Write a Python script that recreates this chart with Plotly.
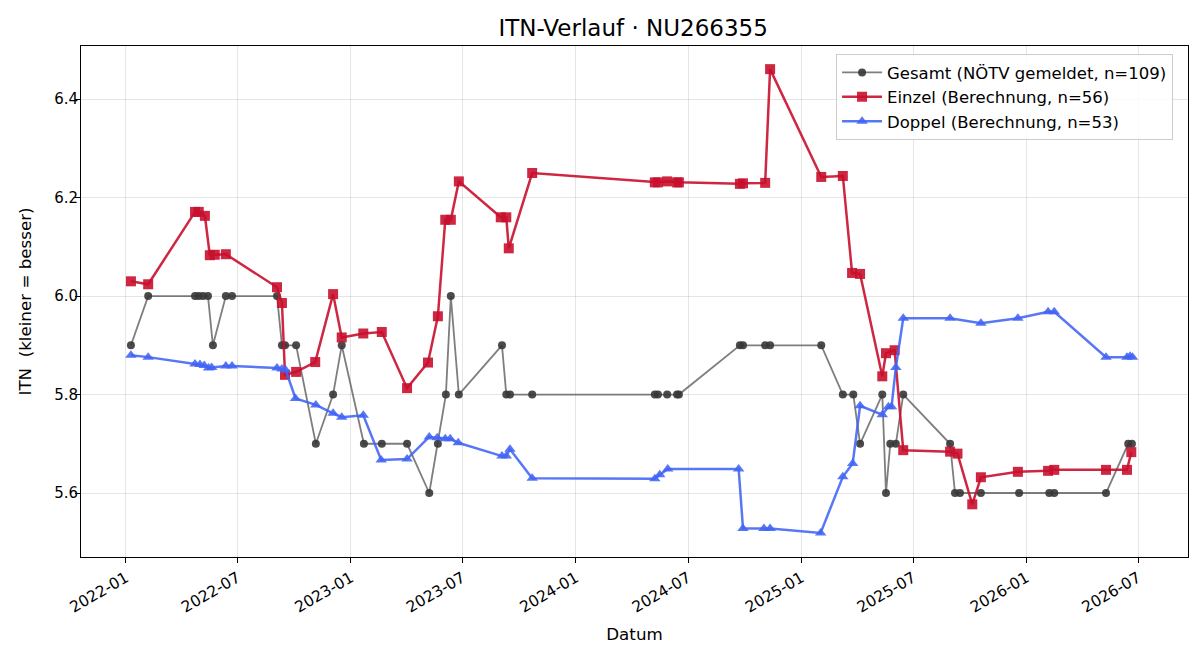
import plotly.graph_objects as go

# ---- Data ----
gesamt_dates = ["2022-01-09","2022-02-06","2022-04-23","2022-04-29","2022-05-06","2022-05-14","2022-05-22",
    "2022-06-12","2022-06-22","2022-09-03","2022-09-11","2022-09-16","2022-10-04","2022-11-05","2022-12-03",
    "2022-12-17","2023-01-22","2023-02-20","2023-04-02","2023-05-08","2023-05-22","2023-06-04","2023-06-12",
    "2023-06-25","2023-09-03","2023-09-10","2023-09-16","2023-10-22","2024-05-08","2024-05-13","2024-05-28",
    "2024-06-13","2024-06-16","2024-09-23","2024-09-28","2024-11-03","2024-11-11","2025-02-02","2025-03-09",
    "2025-03-26","2025-04-06","2025-05-12","2025-05-18","2025-05-25","2025-06-03","2025-06-15","2025-08-30",
    "2025-09-07","2025-09-15","2025-10-19","2025-12-20","2026-02-07","2026-02-15","2026-05-10","2026-06-15",
    "2026-06-21"]
gesamt_vals = [5.9,6.0,6.0,6.0,6.0,6.0,5.9,
    6.0,6.0,6.0,5.9,5.9,5.9,5.7,5.8,
    5.9,5.7,5.7,5.7,5.6,5.7,5.8,6.0,
    5.8,5.9,5.8,5.8,5.8,5.8,5.8,5.8,
    5.8,5.8,5.9,5.9,5.9,5.9,5.9,5.8,
    5.8,5.7,5.8,5.6,5.7,5.7,5.8,5.7,
    5.6,5.6,5.6,5.6,5.6,5.6,5.6,5.7,
    5.7]

einzel_dates = ["2022-01-09","2022-02-06","2022-04-23","2022-04-29","2022-05-09","2022-05-17","2022-05-25",
    "2022-06-12","2022-09-03","2022-09-11","2022-09-16","2022-10-04","2022-11-04","2022-12-03","2022-12-17",
    "2023-01-21","2023-02-20","2023-04-02","2023-05-06","2023-05-22","2023-06-03","2023-06-12","2023-06-25",
    "2023-09-01","2023-09-10","2023-09-14","2023-10-22","2024-05-08","2024-05-13","2024-05-28","2024-06-13",
    "2024-06-16","2024-09-23","2024-09-28","2024-11-03","2024-11-11","2025-02-02","2025-03-09","2025-03-24",
    "2025-04-06","2025-05-12","2025-05-18","2025-06-01","2025-06-15","2025-08-30","2025-09-11","2025-10-05",
    "2025-10-19","2025-12-18","2026-02-05","2026-02-15","2026-05-10","2026-06-13","2026-06-20"]
einzel_vals = [6.030,6.024,6.171,6.171,6.163,6.083,6.084,
    6.085,6.018,5.986,5.840,5.846,5.866,6.004,5.916,
    5.924,5.927,5.813,5.865,5.959,6.155,6.155,6.233,
    6.160,6.160,6.097,6.250,6.231,6.231,6.233,6.231,
    6.231,6.228,6.229,6.230,6.461,6.242,6.244,6.047,
    6.045,5.837,5.884,5.890,5.687,5.684,5.680,5.577,
    5.632,5.643,5.645,5.647,5.647,5.647,5.683]

doppel_dates = ["2022-01-09","2022-02-06","2022-04-23","2022-05-01","2022-05-08","2022-05-15","2022-05-20",
    "2022-06-12","2022-06-22","2022-09-03","2022-09-11","2022-09-17","2022-10-03","2022-11-05","2022-12-03",
    "2022-12-17","2023-01-21","2023-02-19","2023-04-02","2023-05-08","2023-05-21","2023-06-03","2023-06-11",
    "2023-06-24","2023-09-03","2023-09-10","2023-09-16","2023-10-22","2024-05-08","2024-05-16","2024-05-29",
    "2024-09-21","2024-09-28","2024-11-01","2024-11-11","2025-02-01","2025-03-09","2025-03-25","2025-04-06",
    "2025-05-12","2025-05-22","2025-05-27","2025-06-03","2025-06-15","2025-08-30","2025-10-19","2025-12-18",
    "2026-02-05","2026-02-15","2026-05-10","2026-06-13","2026-06-18","2026-06-22"]
doppel_vals = [5.880,5.876,5.862,5.861,5.859,5.854,5.855,
    5.858,5.858,5.854,5.852,5.850,5.792,5.779,5.762,
    5.754,5.758,5.667,5.669,5.714,5.712,5.710,5.710,
    5.702,5.675,5.675,5.689,5.630,5.629,5.637,5.649,
    5.649,5.528,5.528,5.528,5.519,5.633,5.660,5.777,
    5.759,5.775,5.775,5.855,5.955,5.955,5.945,5.955,
    5.968,5.968,5.876,5.876,5.878,5.876]

x_tick_vals = ["2022-01-01","2022-07-01","2023-01-01","2023-07-01","2024-01-01","2024-07-01",
               "2025-01-01","2025-07-01","2026-01-01","2026-07-01"]
x_tick_text = ["2022-01","2022-07","2023-01","2023-07","2024-01","2024-07",
               "2025-01","2025-07","2026-01","2026-07"]
y_tick_vals = [5.6, 5.8, 6.0, 6.2, 6.4]
y_tick_text = ["5.6", "5.8", "6.0", "6.2", "6.4"]

FONT = "DejaVu Sans"

fig = go.Figure()
fig.add_trace(go.Scatter(
    x=gesamt_dates, y=gesamt_vals, mode="lines+markers",
    name="Gesamt (NÖTV gemeldet, n=109)",
    line=dict(color="rgba(90,90,90,0.78)", width=1.8),
    marker=dict(symbol="circle", size=8, color="rgba(55,55,55,0.9)", line=dict(width=0)),
))
fig.add_trace(go.Scatter(
    x=einzel_dates, y=einzel_vals, mode="lines+markers",
    name="Einzel (Berechnung, n=56)",
    line=dict(color="rgba(200,16,46,0.9)", width=2.5),
    marker=dict(symbol="square", size=10, color="rgba(200,16,46,0.9)", line=dict(width=0)),
))
fig.add_trace(go.Scatter(
    x=doppel_dates, y=doppel_vals, mode="lines+markers",
    name="Doppel (Berechnung, n=53)",
    line=dict(color="rgba(65,100,245,0.88)", width=2.5),
    marker=dict(symbol="triangle-up", size=10, color="rgba(65,100,245,0.88)", line=dict(width=0)),
))

fig.update_layout(
    width=1200, height=660,
    margin=dict(l=81, r=12, t=46, b=103),
    paper_bgcolor="white", plot_bgcolor="white",
    font=dict(family=FONT, size=15, color="black"),
    title=dict(text="ITN-Verlauf · NU266355", x=0.5276, xanchor="center", y=0.958, yanchor="middle",
               font=dict(family=FONT, size=23, color="black")),
    legend=dict(x=0.9865, xanchor="right", y=0.984, yanchor="top",
                bgcolor="rgba(255,255,255,0.85)", bordercolor="#cccccc", borderwidth=1,
                font=dict(family=FONT, size=16.5), tracegroupgap=0, itemwidth=40),
    showlegend=True,
)
fig.update_xaxes(
    range=["2021-10-20", "2026-09-20"],
    tickmode="array", tickvals=x_tick_vals, ticktext=x_tick_text, tickangle=-30,
    tickfont=dict(family=FONT, size=15.5),
    showgrid=True, gridcolor="rgba(0,0,0,0.1)", gridwidth=1,
    showline=True, linecolor="black", linewidth=1, mirror=True,
    ticks="outside", ticklen=5, tickcolor="black",
    title=dict(text="Datum", font=dict(family=FONT, size=16.7), standoff=12),
    zeroline=False,
)
fig.update_yaxes(
    range=[5.470, 6.508],
    tickmode="array", tickvals=y_tick_vals, ticktext=y_tick_text,
    tickfont=dict(family=FONT, size=15),
    ticklabelstandoff=-6,
    showgrid=True, gridcolor="rgba(0,0,0,0.1)", gridwidth=1,
    showline=True, linecolor="black", linewidth=1, mirror=True,
    ticks="outside", ticklen=5, tickcolor="black",
    title=dict(text="ITN  (kleiner = besser)", font=dict(family=FONT, size=16.7), standoff=18),
    zeroline=False,
)

fig.write_html("out.html")
